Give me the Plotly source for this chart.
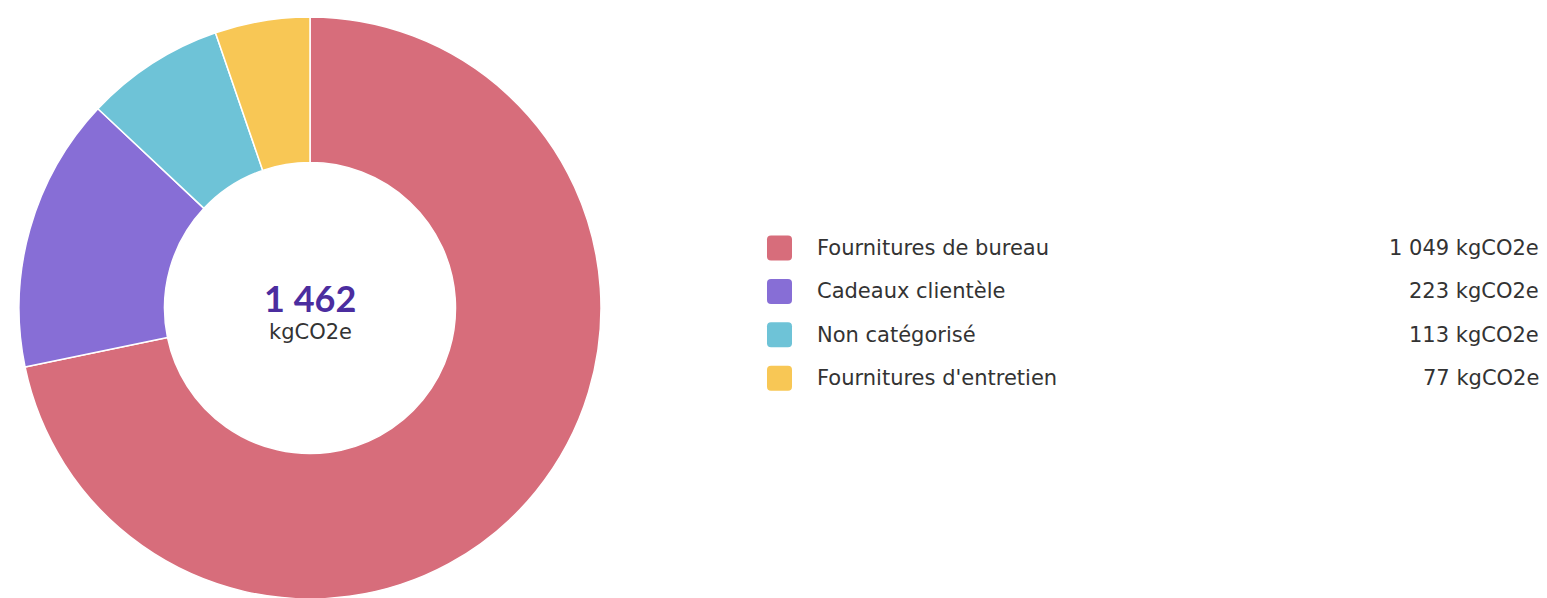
import plotly.graph_objects as go

categories = ["Fournitures de bureau", "Cadeaux clientèle", "Non catégorisé", "Fournitures d'entretien"]
values = [1049, 223, 113, 77]
colors = ["#D76D7B", "#876ED6", "#6EC3D7", "#F8C755"]
unit = "kgCO2e"

W, H = 1547, 616  # figure slightly taller than the window; bottom of ring is cut like the reference

def fmt(v):
    return f"{v:,}".replace(",", " ")

total = sum(values)

# donut geometry (pixels)
cx, cy, R = 310, 308, 291

fig = go.Figure()
fig.add_trace(go.Pie(
    labels=categories,
    values=values,
    marker=dict(colors=colors, line=dict(color="white", width=1.5)),
    hole=0.5,
    sort=False,
    direction="clockwise",
    rotation=0,
    textinfo="none",
    hoverinfo="label+value",
    showlegend=False,
    domain=dict(x=[(cx - R) / W, (cx + R) / W], y=[0, 1]),
))

ann = []
ann.append(dict(x=cx / W, y=1 - 298 / H, xref="paper", yref="paper", text=f"<b>{fmt(total)}</b>",
                showarrow=False, font=dict(family="Lato", size=36, color="#4B2D9F"),
                xanchor="center", yanchor="middle"))
ann.append(dict(x=cx / W, y=1 - 332 / H, xref="paper", yref="paper", text=unit,
                showarrow=False, font=dict(family="DejaVu Sans", size=21, color="#333333"),
                xanchor="center", yanchor="middle"))


def px_path_to_paper(path):
    new = []
    k = 0
    for t in path.split():
        if t.isalpha():
            new.append(t)
            k = 0
        else:
            val = float(t)
            new.append(f"{val / W:.6f}" if k % 2 == 0 else f"{1 - val / H:.6f}")
            k += 1
    return " ".join(new)


shapes = []
row0, step = 248, 43.4
for i, (c, v, col) in enumerate(zip(categories, values, colors)):
    yc = row0 + i * step
    x0, x1 = 767, 792
    y0, y1 = yc - 12.5, yc + 12.5
    r = 4
    path = (f"M {x0 + r} {y0} L {x1 - r} {y0} Q {x1} {y0} {x1} {y0 + r} L {x1} {y1 - r} Q {x1} {y1} {x1 - r} {y1} "
            f"L {x0 + r} {y1} Q {x0} {y1} {x0} {y1 - r} L {x0} {y0 + r} Q {x0} {y0} {x0 + r} {y0} Z")
    shapes.append(dict(type="path", xref="paper", yref="paper", path=px_path_to_paper(path),
                       fillcolor=col, line=dict(width=0)))
    ann.append(dict(x=815 / W, y=1 - yc / H, xref="paper", yref="paper", text=c, showarrow=False,
                    font=dict(family="DejaVu Sans", size=21, color="#333333"),
                    xanchor="left", yanchor="middle"))
    ann.append(dict(x=1541 / W, y=1 - yc / H, xref="paper", yref="paper", text=f"{fmt(v)} {unit}",
                    showarrow=False, font=dict(family="DejaVu Sans", size=21, color="#333333"),
                    xanchor="right", yanchor="middle"))

fig.update_layout(
    width=W, height=H,
    margin=dict(l=0, r=0, t=0, b=0),
    paper_bgcolor="white", plot_bgcolor="white",
    annotations=ann, shapes=shapes,
)

fig.write_html("out.html", config={"displayModeBar": False},
               post_script="document.body.style.margin='0';document.body.style.overflow='hidden';"
                           "document.documentElement.style.overflow='hidden';")
